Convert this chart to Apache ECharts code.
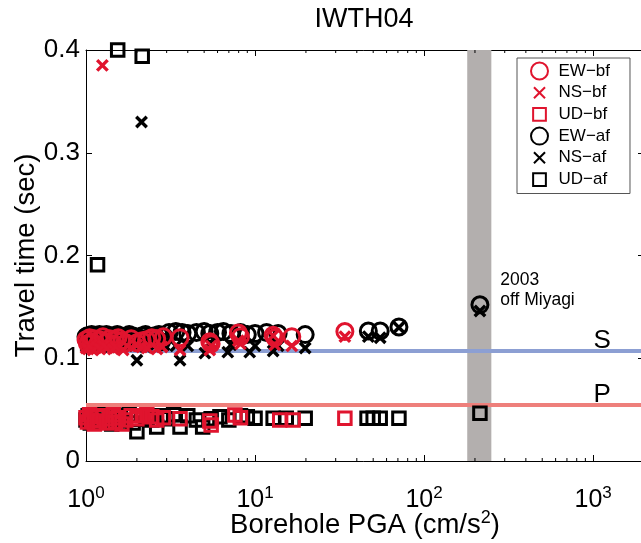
<!DOCTYPE html>
<html><head><meta charset="utf-8">
<script src="https://cdn.jsdelivr.net/npm/echarts@6/dist/echarts.min.js"></script>
<style>html,body{margin:0;padding:0;background:#fff}#c{width:641px;height:543px}</style>
</head><body><div id="c"></div>
<script>
// ---------- data ----------
const title = 'IWTH04';
const legendNames = ['EW−bf', 'NS−bf', 'UD−bf', 'EW−af', 'NS−af', 'UD−af'];

const ewBfX = [1.0,1.02,1.05,1.08,1.12,1.16,1.2,1.26,1.32,1.38,1.45,1.49,1.55,1.63,1.72,1.85,2.0,2.15,2.29,2.45,2.62,2.87,3.6,5.4,5.5,7.97,8.2,12.8,13.1,16.5,34];
const ewBfY = [0.118,0.114,0.12,0.116,0.119,0.113,0.118,0.121,0.116,0.119,0.114,0.118,0.12,0.117,0.115,0.119,0.115,0.117,0.118,0.12,0.119,0.121,0.12,0.116,0.114,0.1245,0.121,0.1225,0.12,0.121,0.126];

const nsBfX = [1.0,1.03,1.06,1.1,1.16,1.21,1.27,1.33,1.45,1.5,1.66,1.75,2.0,2.14,2.3,2.63,2.82,3.6,5.4,5.5,7.97,8.2,12.8,13.1,16.5,34,1.25];
const nsBfY = [0.11,0.109,0.112,0.108,0.111,0.109,0.112,0.11,0.109,0.111,0.108,0.112,0.113,0.111,0.11,0.109,0.111,0.108,0.108,0.112,0.117,0.114,0.122,0.113,0.112,0.121,0.385];

const udBfX = [1.0,1.02,1.05,1.08,1.12,1.16,1.2,1.26,1.32,1.38,1.45,1.49,1.55,1.63,1.72,1.85,2.0,2.15,2.29,2.45,2.62,2.87,3.6,5.4,5.5,7.6,8.2,14,16.8,34];
const udBfY = [0.042,0.038,0.045,0.04,0.036,0.043,0.039,0.044,0.037,0.041,0.045,0.038,0.042,0.036,0.04,0.044,0.041,0.044,0.045,0.043,0.04,0.042,0.041,0.039,0.035,0.0448,0.042,0.04,0.04,0.0415];

const ewAfX = [1.0,1.02,1.05,1.08,1.1,1.13,1.17,1.2,1.24,1.28,1.32,1.37,1.42,1.47,1.53,1.6,1.66,1.72,1.8,1.88,1.95,2.05,2.15,2.25,2.4,2.55,2.7,2.9,3.1,3.4,3.7,4.0,4.5,5.0,5.4,6.0,6.5,7.2,8.2,9.0,10.0,11.7,13.7,19.8,46.8,55,71,214,1.04,1.15,1.35,1.57,1.76,2.1,2.35,2.8];
const ewAfY = [0.121,0.122,0.12,0.123,0.121,0.122,0.12,0.123,0.121,0.122,0.123,0.12,0.122,0.121,0.123,0.122,0.12,0.121,0.123,0.122,0.121,0.12,0.122,0.123,0.121,0.122,0.123,0.121,0.125,0.126,0.125,0.124,0.125,0.126,0.124,0.125,0.126,0.124,0.125,0.123,0.124,0.125,0.124,0.123,0.1265,0.1265,0.1305,0.152,0.117,0.116,0.118,0.117,0.116,0.118,0.117,0.116];

const nsAfX = [1.0,1.05,1.1,1.17,1.24,1.32,1.42,1.53,1.66,1.8,1.95,2.0,2.13,2.25,2.55,2.9,3.4,3.6,4.0,5.05,5.4,6.9,7.2,9.3,10.0,12.8,13.7,19.8,46.8,55,71,214];
const nsAfY = [0.112,0.111,0.113,0.112,0.111,0.113,0.112,0.111,0.112,0.113,0.112,0.098,0.33,0.111,0.112,0.113,0.112,0.098,0.112,0.105,0.115,0.106,0.113,0.106,0.112,0.107,0.112,0.11,0.121,0.12,0.13,0.146];

const udAfX = [1.0,1.03,1.06,1.1,1.14,1.17,1.2,1.25,1.3,1.36,1.42,1.49,1.54,1.6,1.7,1.8,1.9,2.0,2.15,2.3,2.45,2.62,2.8,3.0,3.3,3.6,4.0,4.5,4.9,5.5,6.2,7.0,8.2,9.0,10.0,12.8,15.3,19.8,46,50,55,71,214];
const udAfY = [0.04,0.044,0.037,0.042,0.039,0.191,0.045,0.038,0.043,0.04,0.036,0.044,0.4,0.041,0.039,0.045,0.037,0.0285,0.394,0.042,0.04,0.033,0.044,0.041,0.045,0.033,0.044,0.04,0.033,0.041,0.043,0.04,0.044,0.043,0.0415,0.0415,0.0415,0.0415,0.0415,0.0415,0.0415,0.0415,0.0465];

const sWaveTime = 0.107;   // S reference line
const pWaveTime = 0.0545;  // P reference line
const bandRange = [180, 250]; // 2003 off Miyagi
const bandLabel = '2003\noff Miyagi';
const labelPosS = 1130, labelPosP = 1130, bandLabelX = 282, bandLabelY = 0.166;

const xMin = 1, xMax = 2000, yMin = 0, yMax = 0.4, yStep = 0.1;
const minorTicks = [2,3,4,5,6,7,8,9,20,30,40,50,60,70,80,90,200,300,400,500,600,700,800,900];

// ---------- chart ----------
const FONT = '"Liberation Sans", Arial, Helvetica, sans-serif';
const RED = '#e0142e', BLACK = '#000000';
const zip = (a, b) => a.map((v, i) => [v, b[i]]);
const CROSS = 'path://M0,0L10,10M10,0L0,10';
const CROSS_LEG = 'path://M0,0M20,20M3.5,3.5L16.5,16.5M16.5,3.5L3.5,16.5';
const SQUARE_LEG = 'path://M0,0M20,20M2.5,2.5L17.5,2.5L17.5,17.5L2.5,17.5Z';

function mk(name, data, symbol, size, color, z, bw) {
  return {
    name, type: 'scatter', data, symbol, symbolSize: size, z,
    itemStyle: { color: 'rgba(0,0,0,0)', borderColor: color, borderWidth: bw, opacity: 1 },
    emphasis: { disabled: true }, silent: true, clip: false
  };
}
function refLine(name, t, color) {
  return {
    name, type: 'line', data: [[xMin, t], [xMax, t]], showSymbol: false, symbol: 'none', z: 2,
    silent: true, lineStyle: { color, width: 4 }, emphasis: { disabled: true }
  };
}

const chart = echarts.init(document.getElementById('c'), null, { renderer: 'canvas' });
const option = {
  animation: false,
  backgroundColor: '#fff',
  textStyle: { fontFamily: FONT },
  title: { text: title, left: 359, textAlign: 'center', top: 1,
    textStyle: { fontFamily: FONT, fontSize: 27, fontWeight: 'normal', color: '#000' } },
  grid: { left: 86, top: 50, width: 558, height: 411, containLabel: false, outerBoundsMode: 'none' },
  legend: {
    orient: 'vertical', left: 517, top: 58, padding: [3, 20, 4, 13], itemGap: 1.7,
    itemWidth: 22, itemHeight: 17, borderColor: '#555', borderWidth: 1, backgroundColor: '#fff',
    textStyle: { fontFamily: FONT, fontSize: 17, lineHeight: 20, color: '#000', padding: [0, 0, 0, 3] },
    selectedMode: false,
    data: [
      { name: legendNames[0], icon: 'circle' },
      { name: legendNames[1], icon: CROSS_LEG },
      { name: legendNames[2], icon: SQUARE_LEG },
      { name: legendNames[3], icon: 'circle' },
      { name: legendNames[4], icon: CROSS_LEG },
      { name: legendNames[5], icon: SQUARE_LEG }
    ]
  },
  xAxis: [{
    type: 'log', logBase: 10, min: xMin, max: xMax, position: 'bottom',
    axisLine: { show: true, onZero: false, lineStyle: { color: '#000', width: 1 } },
    axisTick: { show: true, inside: true, length: 6, lineStyle: { color: '#000' } },
    splitLine: { show: false }, minorTick: { show: false },
    axisLabel: { margin: 24, color: '#000', showMaxLabel: false,
      formatter: v => '{b|10}{s|' + Math.round(Math.log10(v)) + '}',
      rich: { b: { fontSize: 25, fontFamily: FONT, color: '#000' },
              s: { fontSize: 17, fontFamily: FONT, color: '#000', padding: [0, 0, 14, 0] } } },
    name: 'Borehole PGA (cm/s{s|2})', nameLocation: 'middle', nameGap: 48, nameMoveOverlap: false,
    nameTextStyle: { fontSize: 27.5, fontFamily: FONT, color: '#000',
      rich: { s: { fontSize: 18, fontFamily: FONT, color: '#000', padding: [0, 0, 15, 0] } } }
  }, {
    type: 'log', logBase: 10, min: xMin, max: xMax, position: 'top',
    axisLine: { show: true, onZero: false, lineStyle: { color: '#000', width: 1 } },
    axisTick: { show: true, inside: true, length: 6, lineStyle: { color: '#000' } },
    axisLabel: { show: false }, splitLine: { show: false }
  }],
  yAxis: [{
    type: 'value', min: yMin, max: yMax, interval: yStep, position: 'left',
    axisLine: { show: true, onZero: false, lineStyle: { color: '#000', width: 1 } },
    axisTick: { show: true, inside: true, length: 6, lineStyle: { color: '#000' } },
    splitLine: { show: false },
    axisLabel: { margin: 6, fontSize: 26, fontFamily: FONT, color: '#000',
      formatter: v => (v === 0 ? '0' : v.toFixed(1)) },
    name: 'Travel time (sec)', nameLocation: 'middle', nameGap: 46, nameRotate: 90, nameMoveOverlap: false,
    nameTextStyle: { fontSize: 27.5, fontFamily: FONT, color: '#000' }
  }, {
    type: 'value', min: yMin, max: yMax, interval: yStep, position: 'right',
    axisLine: { show: true, onZero: false, lineStyle: { color: '#000', width: 1 } },
    axisTick: { show: true, inside: true, length: 6, lineStyle: { color: '#000' } },
    splitLine: { show: false }, axisLabel: { show: false }
  }],
  series: [
    {
      name: 'band', type: 'scatter', data: [], z: 1, silent: true,
      markArea: { silent: true, itemStyle: { color: '#b3afae' },
        data: [[{ xAxis: bandRange[0] }, { xAxis: bandRange[1] }]] },
      markPoint: { silent: true, symbol: 'circle', symbolSize: 0,
        data: [{ coord: [bandLabelX, bandLabelY], value: 0 }],
        label: { show: true, position: 'right', distance: 0, formatter: bandLabel, align: 'left',
          fontSize: 17.5, lineHeight: 20, fontFamily: FONT, color: '#000' } }
    },
    refLine('S', sWaveTime, '#8c9fd3'),
    refLine('P', pWaveTime, '#ee7f7b'),
    {
      name: 'labels', type: 'scatter', data: [], z: 2, silent: true,
      markPoint: { silent: true, symbol: 'circle', symbolSize: 0,
        label: { show: true, position: 'inside', fontSize: 26, fontFamily: FONT, color: '#000' },
        data: [
          { coord: [labelPosS, sWaveTime], value: 0, label: { formatter: 'S', offset: [0, -10] } },
          { coord: [labelPosP, pWaveTime], value: 0, label: { formatter: 'P', offset: [0, -10] } }
        ] }
    },
    {
      name: 'minor', type: 'custom', silent: true, z: 2,
      data: minorTicks.map(v => [v, yMin]),
      encode: { x: 0, y: 1 },
      renderItem: (params, api) => {
        const v = api.value(0);
        const b = api.coord([v, yMin]);
        const t = api.coord([v, yMax]);
        const st = { stroke: '#000', lineWidth: 1 };
        return { type: 'group', children: [
          { type: 'line', shape: { x1: b[0], y1: b[1], x2: b[0], y2: b[1] - 3 }, style: st },
          { type: 'line', shape: { x1: t[0], y1: t[1], x2: t[0], y2: t[1] + 3 }, style: st }
        ] };
      }
    },
    mk(legendNames[3], zip(ewAfX, ewAfY), 'circle', 16, BLACK, 3, 3),
    mk(legendNames[4], zip(nsAfX, nsAfY), CROSS, 10.5, BLACK, 3, 3.4),
    mk(legendNames[5], zip(udAfX, udAfY), 'rect', 12.5, BLACK, 3, 3),
    mk(legendNames[0], zip(ewBfX, ewBfY), 'circle', 16, RED, 4, 3),
    mk(legendNames[1], zip(nsBfX, nsBfY), CROSS, 10.5, RED, 4, 3.4),
    mk(legendNames[2], zip(udBfX, udBfY), 'rect', 12.5, RED, 4, 3)
  ]
};
chart.setOption(option);
</script></body></html>
